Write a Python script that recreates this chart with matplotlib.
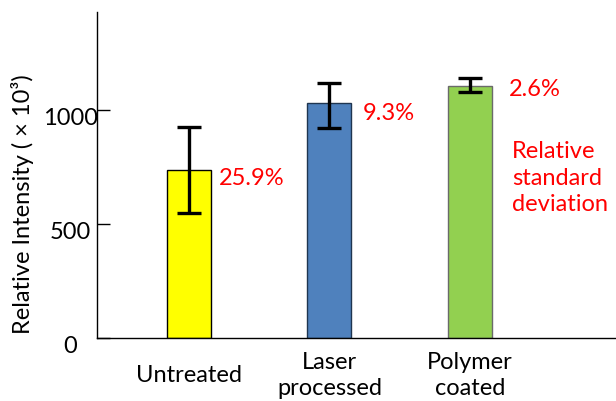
import matplotlib
matplotlib.use("Agg")
import matplotlib.pyplot as plt
from matplotlib.transforms import ScaledTranslation

categories = ["Untreated", "Laser\nprocessed", "Polymer\ncoated"]
values = [737, 1031, 1107]
err_low = [548, 924, 1079]
err_high = [925, 1118, 1143]
rsd_labels = ["25.9%", "9.3%", "2.6%"]
yticks = [0, 500, 1000]
ylabel = "Relative Intensity ( \u00d7 10\u00b3)"
note = "Relative\nstandard\ndeviation"

bar_colors = ["#FFFF00", "#4F81BD", "#92D050"]
edge_colors = ["#000000", "#1F3550", "#6A6A6A"]

plt.rcParams['font.family'] = ['Lato', 'DejaVu Sans']

fig = plt.figure(figsize=(6.16, 4.01), dpi=100)
ax = fig.add_axes([97/616, 1 - 338.3/401, 1 - 97/616, (338.3 - 12)/401])

x = list(range(len(categories)))
ax.bar(x, values, width=0.313, color=bar_colors, edgecolor=edge_colors, linewidth=1.0, zorder=2)
yerr = [[v - lo for v, lo in zip(values, err_low)], [hi - v for v, hi in zip(values, err_high)]]
ax.errorbar(x, values, yerr=yerr, fmt='none', ecolor='black', elinewidth=2.4,
            capsize=8.3, capthick=2.4, zorder=3)

ax.set_xlim(-0.6515, 3.036)
ax.set_ylim(0, 1431)

for s in ['top', 'right']:
    ax.spines[s].set_visible(False)
for s in ['left', 'bottom']:
    ax.spines[s].set_linewidth(1.0)

ax.set_yticks(yticks)
ax.set_yticklabels([str(t) for t in yticks])
ax.tick_params(axis='y', direction='in', length=9.5, width=1.0, pad=19, labelsize=17)
for lab in ax.get_yticklabels():
    lab.set_horizontalalignment('center')
    lab.set_transform(lab.get_transform() + ScaledTranslation(0, -0.06, fig.dpi_scale_trans))

ax.set_xticks(x)
ax.set_xticklabels(categories, va='center', linespacing=1.3)
ax.tick_params(axis='x', length=0, pad=27, labelsize=17)

ax.set_ylabel(ylabel, fontsize=17, va='center')
ax.yaxis.set_label_coords(-0.1445, 0.41)

offsets_x = [0.215, 0.24, 0.276]
offsets_y = [-38, -47, -14]
for i, (lab, v, dx, dy) in enumerate(zip(rsd_labels, values, offsets_x, offsets_y)):
    ax.text(i + dx, v + dy, lab, color='#FF0000', fontsize=17, ha='left', va='center')

ax.text(2.296, 703, note, color='#FF0000', fontsize=17, ha='left', va='center', linespacing=1.3)

fig.savefig("out.png", dpi=100)
